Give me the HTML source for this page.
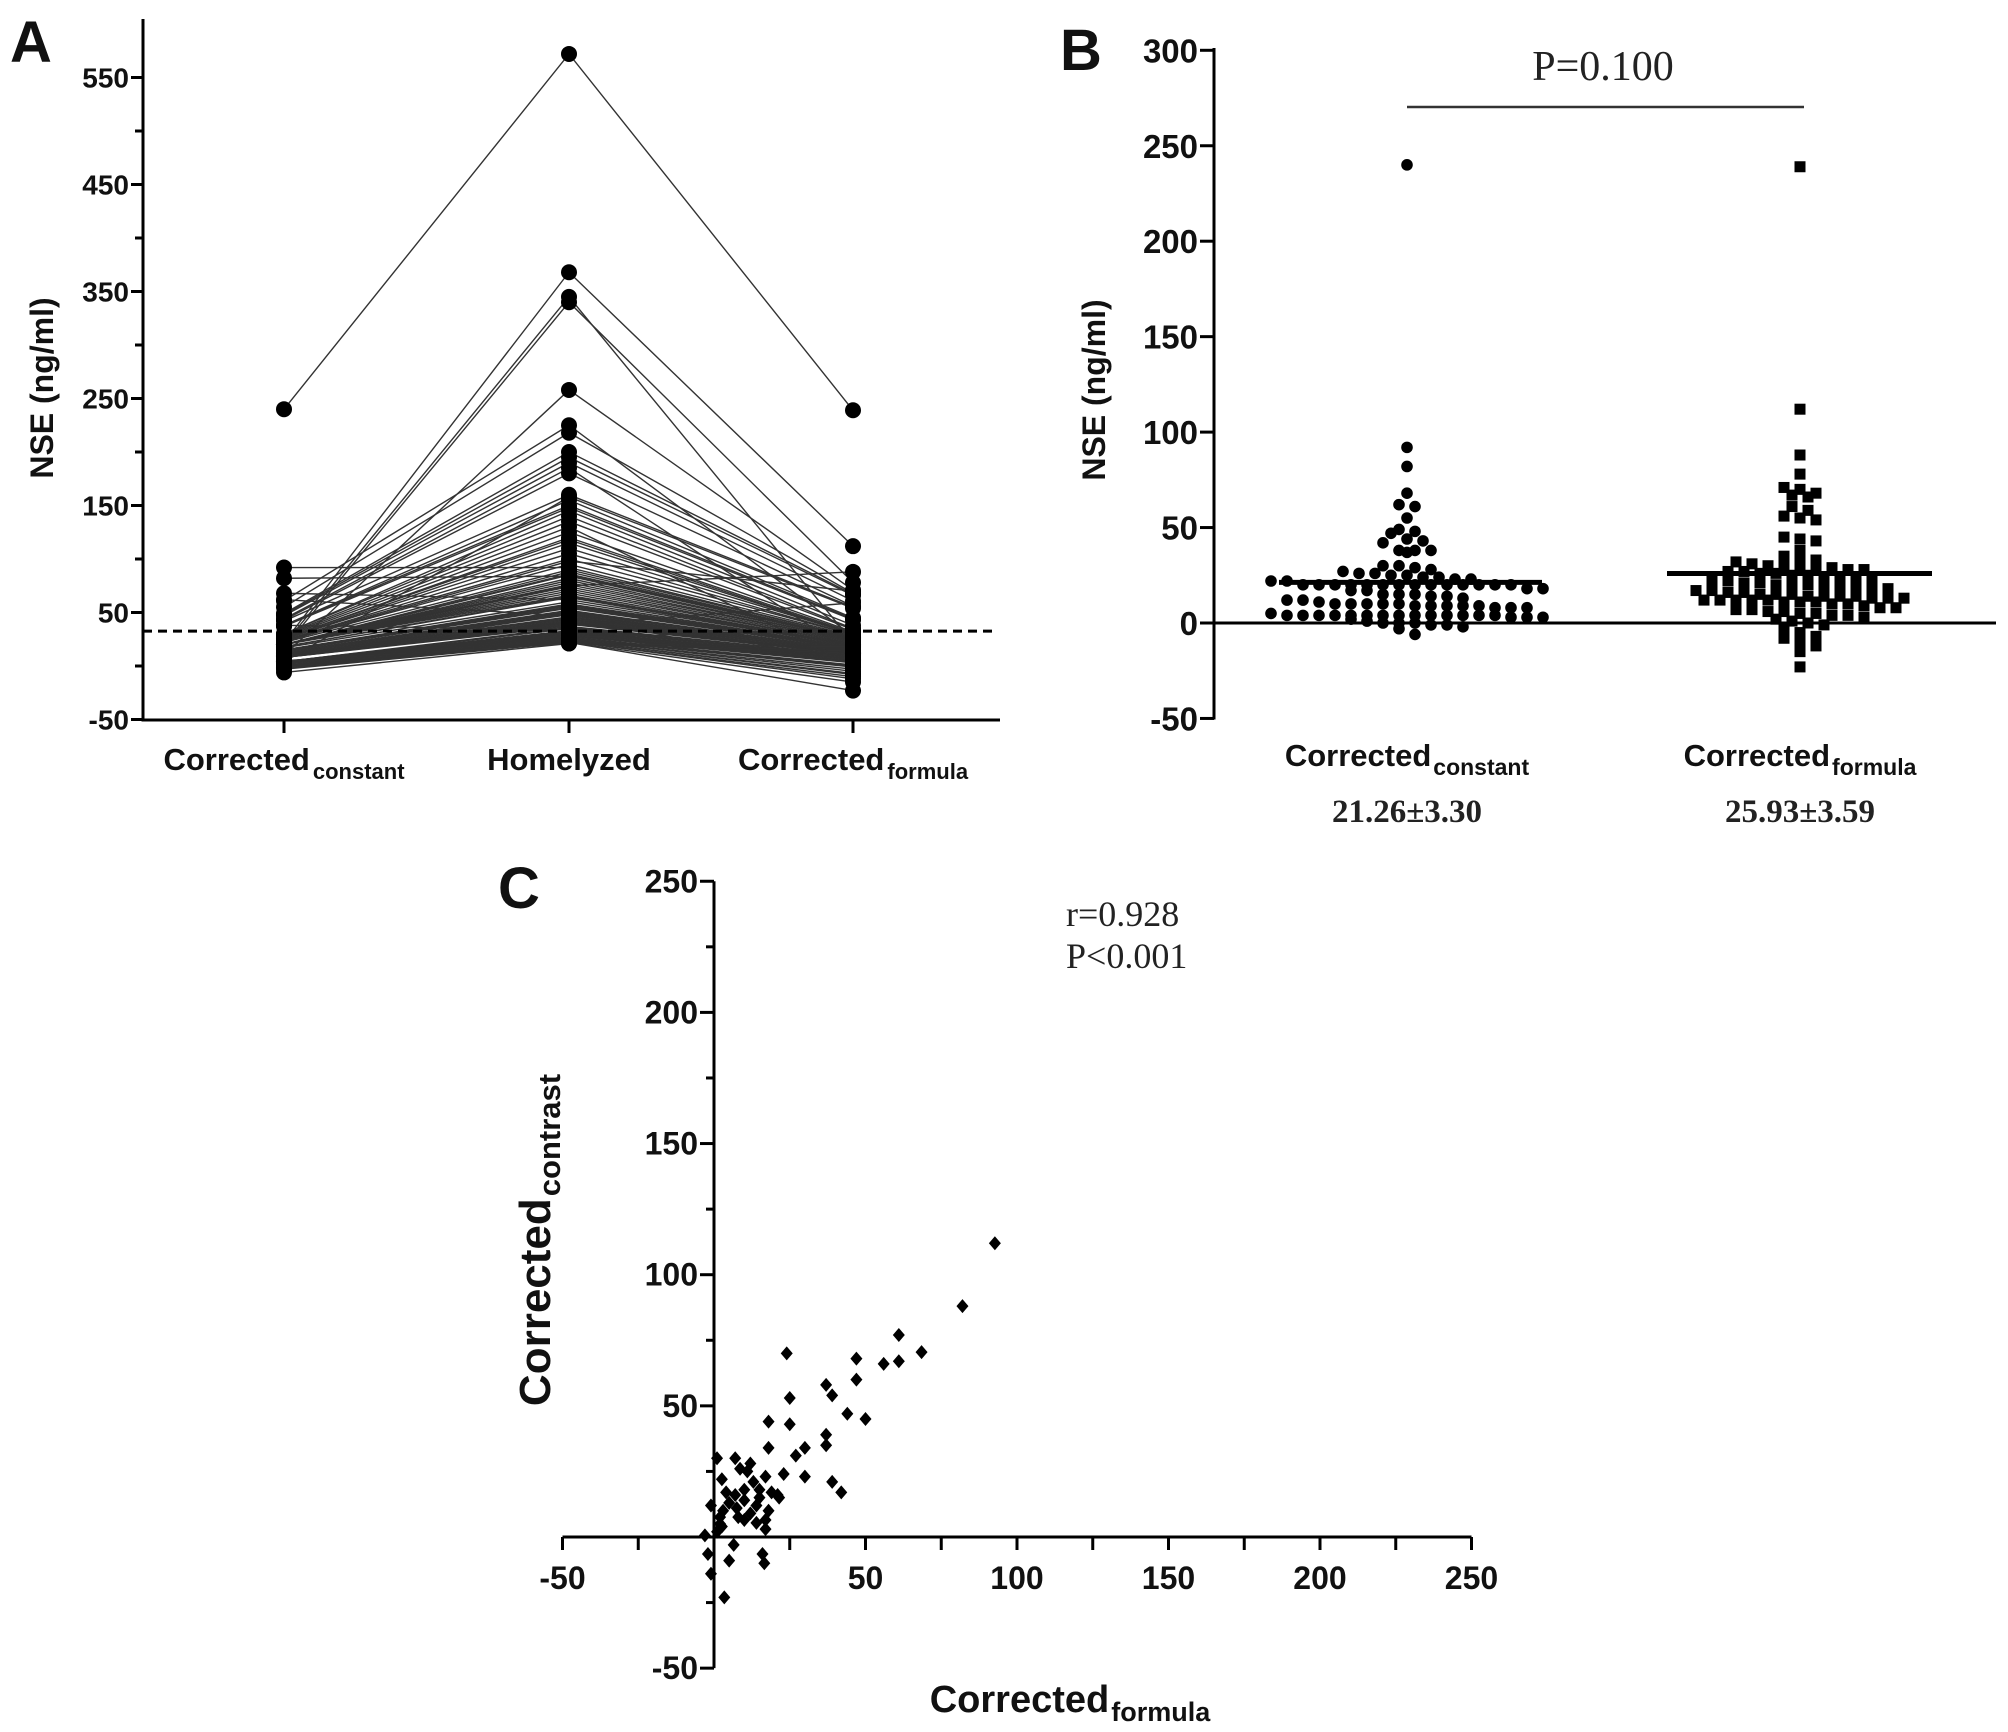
<!DOCTYPE html>
<html><head><meta charset="utf-8"><style>
html,body{margin:0;padding:0;background:#fff;}
svg{display:block;}
.tk{font-family:"Liberation Sans",Arial,sans-serif;font-weight:bold;fill:#111;}
.sf{font-family:"Liberation Serif","Times New Roman",serif;fill:#222;}
</style></head><body>
<svg id="fig" width="2008" height="1732" viewBox="0 0 2008 1732" xmlns="http://www.w3.org/2000/svg">
<g id="pA"></g>
<g id="pB"></g>
<g id="pC"></g>
</svg>
<script>
// ---------- Panel A data ----------
const aCategories = ["Corrected", "Homelyzed", "Corrected"];
const aTicks = [-50, 50, 150, 250, 350, 450, 550];
const constantVals = [240,22,20,17,10,61,55,49,48,47,44,43,42,4,38,38,37,30,30,29,28,27,26,26,25,25,24,24,23,23,92,22,20,20,20,82,20,20,20,20,20,20,20,20,20,20,18,18,68,17,15,15,15,14,14,13,12,12,11,10,62,10,10,10,9,9,9,9,9,8,8,8,4,4,4,38,4,4,4,4,4,4,4,4,4,4,3,3,3,2,1,0,0,0,-1,-1,-2,-3,-6,5];
const homelyzedVals = [572,368,345,340,258,225,218,200,195,190,185,180,160,158,155,150,148,145,140,135,130,125,120,118,115,110,105,100,98,95,92,90,88,86,85,84,82,80,78,76,75,74,72,70,68,66,65,64,62,60,58,57,56,55,54,52,51,50,49,48,47,46,45,44,43,42,41,40,40,39,38,37,36,35,35,34,33,32,32,31,30,30,29,28,28,27,27,26,26,25,25,24,24,23,23,22,22,22,21,21];
const formulaVals = [239,112,22,78,71,28,68,67,66,61,11,56,55,54,45,44,43,38,35,34,2,32,31,30,30,30,29,29,70,28,27,27,26,26,25,25,24,24,23,23,88,22,21,21,20,20,20,19,19,18,18,17,17,16,16,15,15,15,14,14,14,13,13,13,12,12,12,12,11,11,59,10,10,9,8,8,7,7,6,6,5,5,4,4,3,33,1,0,-1,-3,-5,-7,-8,-10,-12,-15,-23,14,12,18];
const cutoffVal = 32.6;

// ---------- Panel B data ----------
const bTicks = [-50, 0, 50, 100, 150, 200, 250, 300];
const bMeans = [21.26, 25.93];
const bMeanText = ["21.26±3.30", "25.93±3.59"];

// ---------- Panel C data ----------
const cXTicks = [-50, 0, 50, 100, 150, 200, 250];
const cYTicks = [-50, 0, 50, 100, 150, 200, 250];
const scatterX = [92.7,82,61,68.5,61,56,47,47,24,25,37,39,44,50,18,25,37,37,30,27,30,39,42,23,18,17,21,19,15,12,7,1,2.6,8.6,11,13,-1,3,5,7.5,10,12,14,8,10,2,1,-3,-2,-1,3.4,5,6.5,16,16.6,17,17,18,21.5,7,10,4,2,2.6,15,14];
const scatterY = [112,88,77,70.5,67,66,68,60,70,53,58,54,47,45,44,43,39,35,34,31,23,21,17,24,34,23,16,17,18,28,30,30,22,26,25,21,12,10,13,11,14,9,12,7.6,6.5,5,2,0.6,-6.5,-14,-23,-9,-3,-6.5,-10,6.5,3,10,15,16,18,17,7.6,4,15,5.4];

const NS = "http://www.w3.org/2000/svg";
function mk(parent, tag, attrs, text) {
  const e = document.createElementNS(NS, tag);
  for (const k in attrs) e.setAttribute(k, attrs[k]);
  if (text !== undefined) e.textContent = text;
  parent.appendChild(e);
  return e;
}

// ================= Panel A =================
(function(){
  const g = document.getElementById('pA');
  const ax = 143, y0 = 666, k = 1.07, yTop = 19, xEnd = 1000, yBot = 720;
  const ya = v => y0 - v * k;
  const catX = [284, 569, 853];
  let t = mk(g, 'text', {x: 10, y: 62, class: 'tk', 'font-size': 58}, 'A');
  
  
  const lg = mk(g, 'g', {stroke: '#333', 'stroke-width': 1.4, fill: 'none'});
  
  
  for (let i = 0; i < homelyzedVals.length; i++) {
    const pl = mk(lg, 'polyline', {points: `${catX[0]},${ya(constantVals[i])} ${catX[1]},${ya(homelyzedVals[i])} ${catX[2]},${ya(formulaVals[i])}`});
    
    
  }
  const series = [constantVals, homelyzedVals, formulaVals];
  series.forEach((arr, ci) => {
    arr.forEach(v => {
      const c = mk(g, 'circle', {cx: catX[ci], cy: ya(v), r: 8, fill: '#000'});
      
      
    });
  });
  const d = mk(g, 'line', {x1: ax, x2: 998, y1: ya(cutoffVal), y2: ya(cutoffVal), stroke: '#000', 'stroke-width': 3, 'stroke-dasharray': '9,6'});
  
  
  const yAx = mk(g, 'line', {x1: ax, x2: ax, y1: yTop, y2: yBot + 1.5, stroke: '#000', 'stroke-width': 3});
  
  
  const xAx = mk(g, 'line', {x1: ax, x2: xEnd, y1: yBot, y2: yBot, stroke: '#000', 'stroke-width': 3});
  
  
  for (let v = -50; v <= 550; v += 50) {
    const isMaj = aTicks.includes(v);
    mk(g, 'line', {x1: ax - (isMaj ? 12 : 8), x2: ax, y1: ya(v), y2: ya(v), stroke: '#000', 'stroke-width': 3});
  }
  aTicks.forEach(v => {
    const tt = mk(g, 'text', {x: ax - 14, y: ya(v) + 10, class: 'tk', 'font-size': 28, 'text-anchor': 'end'}, String(v));
    
    
  });
  catX.forEach(x => mk(g, 'line', {x1: x, x2: x, y1: yBot, y2: yBot + 13, stroke: '#000', 'stroke-width': 3}));
  const subs = ['constant', '', 'formula'];
  catX.forEach((x, i) => {
    const tt = mk(g, 'text', {x: x, y: 770, class: 'tk', 'font-size': 31, 'text-anchor': 'middle'});
    
    
    mk(tt, 'tspan', {}, aCategories[i]);
    if (subs[i]) mk(tt, 'tspan', {'font-size': 22, dy: 9, dx: 3}, subs[i]);
  });
  const yt = mk(g, 'text', {x: 0, y: 0, class: 'tk', 'font-size': 32, 'text-anchor': 'middle', transform: 'translate(53,388) rotate(-90)'}, 'NSE (ng/ml)');
  
  
})();

// ================= Panel B =================
(function(){
  const g = document.getElementById('pB');
  const ax = 1214, y0 = 623, k = 1.909, yTop = 48, yBot = 718, xEnd = 1996;
  const yb = v => y0 - v * k;
  const catX = [1407, 1800];
  let t = mk(g, 'text', {x: 1060, y: 70, class: 'tk', 'font-size': 58}, 'B');
  
  
  function swarm(arr, cx, shape) {
    const bins = {};
    const sorted = arr.slice().sort((a, b) => b - a);
    sorted.forEach(v => {
      const key = Math.round(v / 5);
      (bins[key] = bins[key] || []).push(v);
    });
    Object.keys(bins).forEach(key => {
      const list = bins[key];
      const n = list.length;
      list.forEach((v, i) => {
        const off = (i - (n - 1) / 2) * 16;
        const y = yb(v);
        let m;
        if (shape === 'circle') m = mk(g, 'circle', {cx: cx + off, cy: y, r: 5.8, fill: '#000'});
        else m = mk(g, 'rect', {x: cx + off - 5.5, y: y - 5.5, width: 11, height: 11, fill: '#000'});
        
        
      });
    });
  }
  swarm(constantVals, catX[0], 'circle');
  swarm(formulaVals, catX[1], 'rect');
  const mw = [[1279, 1542], [1667, 1932]];
  bMeans.forEach((m, i) => {
    const l = mk(g, 'line', {x1: mw[i][0], x2: mw[i][1], y1: yb(m), y2: yb(m), stroke: '#000', 'stroke-width': 5});
    
    
  });
  const yAx = mk(g, 'line', {x1: ax, x2: ax, y1: yTop, y2: yBot + 1.5, stroke: '#000', 'stroke-width': 3});
  
  
  const xAx = mk(g, 'line', {x1: ax, x2: xEnd, y1: y0, y2: y0, stroke: '#000', 'stroke-width': 3});
  
  
  bTicks.forEach(v => {
    mk(g, 'line', {x1: ax - 14, x2: ax, y1: yb(v), y2: yb(v), stroke: '#000', 'stroke-width': 3});
    const tt = mk(g, 'text', {x: ax - 16, y: yb(v) + 12, class: 'tk', 'font-size': 33, 'text-anchor': 'end'}, String(v));
    
    
  });
  const pl = mk(g, 'line', {x1: 1407, x2: 1804, y1: 107, y2: 107, stroke: '#333', 'stroke-width': 2.5});
  
  
  const pt = mk(g, 'text', {x: 1603, y: 80, class: 'sf', 'font-size': 42, 'text-anchor': 'middle'}, 'P=0.100');
  
  
  const subs = ['constant', 'formula'];
  catX.forEach((x, i) => {
    const tt = mk(g, 'text', {x: x, y: 766, class: 'tk', 'font-size': 31, 'text-anchor': 'middle'});
    
    
    mk(tt, 'tspan', {}, 'Corrected');
    mk(tt, 'tspan', {'font-size': 23, dy: 9, dx: 2}, subs[i]);
    const mt = mk(g, 'text', {x: x, y: 822, class: 'sf', 'font-size': 33, 'font-weight': 'bold', 'text-anchor': 'middle'}, bMeanText[i]);
    
    
  });
  const yt = mk(g, 'text', {x: 0, y: 0, class: 'tk', 'font-size': 32, 'text-anchor': 'middle', transform: 'translate(1105,390) rotate(-90)'}, 'NSE (ng/ml)');
  
  
})();

// ================= Panel C =================
(function(){
  const g = document.getElementById('pC');
  const x0 = 714, kx = 3.03, y0 = 1537, ky = 2.623;
  const xc = v => x0 + v * kx;
  const yc = v => y0 - v * ky;
  let t = mk(g, 'text', {x: 498, y: 908, class: 'tk', 'font-size': 58}, 'C');
  
  
  const yAx = mk(g, 'line', {x1: x0, x2: x0, y1: yc(250), y2: yc(-50), stroke: '#000', 'stroke-width': 3});
  
  
  const xAx = mk(g, 'line', {x1: xc(-50), x2: xc(250), y1: y0, y2: y0, stroke: '#000', 'stroke-width': 3});
  
  
  for (let v = -50; v <= 250; v += 25) {
    mk(g, 'line', {x1: xc(v), x2: xc(v), y1: y0, y2: y0 + 13, stroke: '#000', 'stroke-width': 3});
    mk(g, 'line', {x1: x0 - (v % 50 === 0 ? 14 : 8), x2: x0, y1: yc(v), y2: yc(v), stroke: '#000', 'stroke-width': 3});
  }
  cXTicks.forEach(v => {
    if (v === 0) return;
    const tt = mk(g, 'text', {x: xc(v), y: 1589, class: 'tk', 'font-size': 32, 'text-anchor': 'middle'}, String(v));
    
    
  });
  cYTicks.forEach(v => {
    if (v === 0) return;
    const tt = mk(g, 'text', {x: x0 - 16, y: yc(v) + 11, class: 'tk', 'font-size': 32, 'text-anchor': 'end'}, String(v));
    
    
  });
  scatterX.forEach((xv, i) => {
    const cx = xc(xv), cy = yc(scatterY[i]);
    const p = mk(g, 'polygon', {points: `${cx},${cy-7} ${cx+6},${cy} ${cx},${cy+7} ${cx-6},${cy}`, fill: '#000'});
    
    
  });
  const r1 = mk(g, 'text', {x: 1066, y: 926, class: 'sf', 'font-size': 36}, 'r=0.928');
  
  
  const r2 = mk(g, 'text', {x: 1066, y: 968, class: 'sf', 'font-size': 36}, 'P<0.001');
  
  
  const xt = mk(g, 'text', {x: 1070, y: 1712, class: 'tk', 'font-size': 38, 'text-anchor': 'middle'});
  
  
  mk(xt, 'tspan', {}, 'Corrected');
  mk(xt, 'tspan', {'font-size': 27, dy: 9, dx: 2}, 'formula');
  const yt = mk(g, 'text', {x: 0, y: 0, class: 'tk', 'font-size': 44, 'text-anchor': 'middle', transform: 'translate(550,1240) rotate(-90)'});
  
  
  mk(yt, 'tspan', {}, 'Corrected');
  mk(yt, 'tspan', {'font-size': 31, dy: 10, dx: 2}, 'contrast');
})();
</script>
</body></html>
